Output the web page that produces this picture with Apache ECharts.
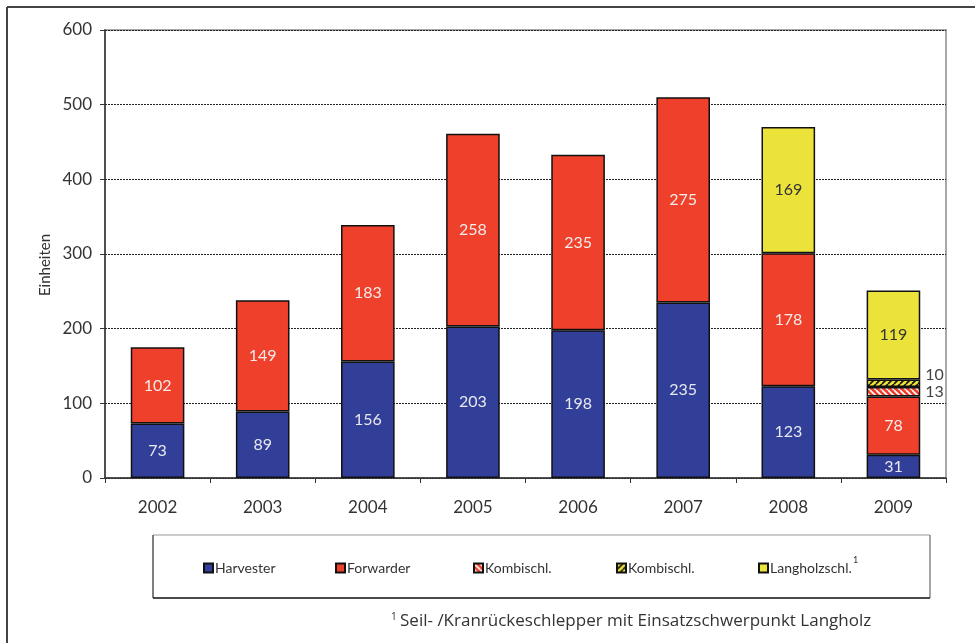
<!DOCTYPE html>
<html>
<head>
<meta charset="utf-8">
<script src="https://cdn.jsdelivr.net/npm/echarts@6/dist/echarts.min.js"></script>
<style>
  html, body { margin: 0; padding: 0; background: #fff; }
  #chart { width: 975px; height: 643px; }
</style>
</head>
<body>
<div id="chart"></div>
<script>
// Forstmaschinen-Absatz nach Bauart, 2002–2009
const years = ['2002', '2003', '2004', '2005', '2006', '2007', '2008', '2009'];
const harvester = [73, 89, 156, 203, 198, 235, 123, 31];
const forwarder = [102, 149, 183, 258, 235, 275, 178, 78];
const kombiRot = [null, null, null, null, null, null, null, 13];
const kombiGelb = [null, null, null, null, null, null, null, 10];
const langholz = [null, null, null, null, null, null, 169, 119];
const yTicks = { min: 0, max: 600, interval: 100 };

const FONT = 'Lato, "Noto Sans", sans-serif';
const FONT_WIDE = '"Open Sans", Lato, sans-serif';
const BLUE = '#323f98';
const RED = '#ee402a';
const YELLOW = '#ebe33a';

// Schraffur als wiederholtes Canvas-Muster
function hatch(bg, fg, forward) {
  const s = 6;
  const c = document.createElement('canvas');
  c.width = s; c.height = s;
  const g = c.getContext('2d');
  g.fillStyle = bg;
  g.fillRect(0, 0, s, s);
  g.strokeStyle = fg;
  g.lineWidth = 1.6;
  g.beginPath();
  for (let k = -1; k <= 1; k++) {
    if (forward) { g.moveTo(k * s, s); g.lineTo(k * s + s, 0); }
    else { g.moveTo(k * s, 0); g.lineTo(k * s + s, s); }
  }
  g.stroke();
  return { image: c, repeat: 'repeat' };
}

const border = { borderColor: '#111', borderWidth: 1.5 };
const valueText = (p) => (p.value == null ? '' : String(p.value));
const inLabel = (color) => ({
  show: true, position: 'inside', color: color,
  fontFamily: FONT, fontSize: 16, formatter: valueText
});
const outLabel = (dy) => ({
  show: true, position: 'right', distance: 5, offset: [0, dy], color: '#444',
  fontFamily: FONT, fontSize: 16, formatter: valueText
});

// Legende: je Eintrag eine eigene Komponente für feste Abstände
const legendNames = ['Harvester', 'Forwarder', 'Kombischl. R', 'Kombischl. G', 'Langholzschl.'];
const legendLeft = [198, 330, 468, 611, 753];
const legends = legendNames.map((n, i) => ({
  left: legendLeft[i], top: 556,
  itemWidth: 9, itemHeight: 9, icon: 'rect', selectedMode: false,
  data: [n],
  formatter: (name) => (name.startsWith('Kombischl.') ? 'Kombischl.' : name),
  textStyle: { fontFamily: FONT, fontSize: 14, color: '#333', padding: [0, 0, 0, -3] }
}));

const chart = echarts.init(document.getElementById('chart'), null, { renderer: 'canvas' });

chart.setOption({
  animation: false,
  backgroundColor: '#fff',
  grid: {
    left: 105, top: 30, right: 29, bottom: 165,
    show: true, borderColor: '#a8a8a8', borderWidth: 2, backgroundColor: 'transparent'
  },
  legend: legends,
  xAxis: {
    type: 'category',
    data: years,
    axisLine: { lineStyle: { color: '#333', width: 1.5 } },
    axisTick: { show: true, alignWithLabel: false, length: 5, lineStyle: { color: '#333' } },
    axisLabel: { margin: 21, fontFamily: FONT, fontSize: 17, color: '#333' },
    splitLine: { show: false }
  },
  yAxis: {
    type: 'value',
    min: yTicks.min, max: yTicks.max, interval: yTicks.interval,
    axisLine: { show: true, lineStyle: { color: '#333', width: 1.5 } },
    axisTick: { show: true, length: 5, lineStyle: { color: '#333' } },
    axisLabel: { margin: 13, fontFamily: FONT, fontSize: 17, color: '#333' },
    splitLine: { show: true, lineStyle: { color: '#222', type: [2, 1], width: 1 } }
  },
  series: [
    {
      name: 'Harvester', type: 'bar', stack: 'ges', barWidth: '51%',
      data: harvester,
      itemStyle: Object.assign({ color: BLUE }, border),
      label: inLabel('#e8e8f0')
    },
    {
      name: 'Forwarder', type: 'bar', stack: 'ges',
      data: forwarder,
      itemStyle: Object.assign({ color: RED }, border),
      label: inLabel('#f4ecea')
    },
    {
      name: 'Kombischl. R', type: 'bar', stack: 'ges',
      data: kombiRot,
      itemStyle: Object.assign({ color: hatch(RED, '#ffffff', false) }, border),
      label: outLabel(0)
    },
    {
      name: 'Kombischl. G', type: 'bar', stack: 'ges',
      data: kombiGelb,
      itemStyle: Object.assign({ color: hatch(YELLOW, '#111111', true) }, border),
      label: outLabel(-8)
    },
    {
      name: 'Langholzschl.', type: 'bar', stack: 'ges',
      data: langholz,
      itemStyle: Object.assign({ color: YELLOW }, border),
      label: inLabel('#333')
    }
  ],
  graphic: [
    // äußerer Rahmen (oben und links)
    { type: 'line', shape: { x1: 7, y1: 7, x2: 975, y2: 7 }, style: { stroke: '#444', lineWidth: 2 }, silent: true },
    { type: 'line', shape: { x1: 7, y1: 7, x2: 7, y2: 643 }, style: { stroke: '#444', lineWidth: 2 }, silent: true },
    // Legendenrahmen
    { type: 'line', shape: { x1: 153, y1: 535, x2: 930, y2: 535 }, style: { stroke: '#bbb', lineWidth: 1.5 }, silent: true },
    { type: 'line', shape: { x1: 930, y1: 535, x2: 930, y2: 598 }, style: { stroke: '#888', lineWidth: 1.5 }, silent: true },
    { type: 'line', shape: { x1: 153, y1: 535, x2: 153, y2: 598 }, style: { stroke: '#555', lineWidth: 1.5 }, silent: true },
    { type: 'line', shape: { x1: 153, y1: 598, x2: 930, y2: 598 }, style: { stroke: '#111', lineWidth: 1.5 }, silent: true },
    // Fußnotenzeichen an der Legende
    {
      type: 'text', x: 853, y: 560,
      style: { text: '1', fontFamily: FONT, fontSize: 9, fill: '#333', verticalAlign: 'middle' },
      silent: true
    },
    // Achsentitel
    {
      type: 'text', x: 45, y: 265, rotation: Math.PI / 2,
      style: { text: 'Einheiten', fontFamily: FONT, fontSize: 15, fill: '#333', align: 'center', verticalAlign: 'middle' },
      silent: true
    },
    // Fußnote
    {
      type: 'text', x: 391, y: 621,
      style: {
        text: '{s|1} {t|Seil- /Kranrückeschlepper mit Einsatzschwerpunkt Langholz}',
        verticalAlign: 'middle',
        rich: {
          s: { fontFamily: FONT_WIDE, fontSize: 10, fill: '#333', padding: [0, 0, 8, 0] },
          t: { fontFamily: FONT_WIDE, fontSize: 17, fill: '#333' }
        }
      },
      silent: true
    }
  ]
});
</script>
</body>
</html>
